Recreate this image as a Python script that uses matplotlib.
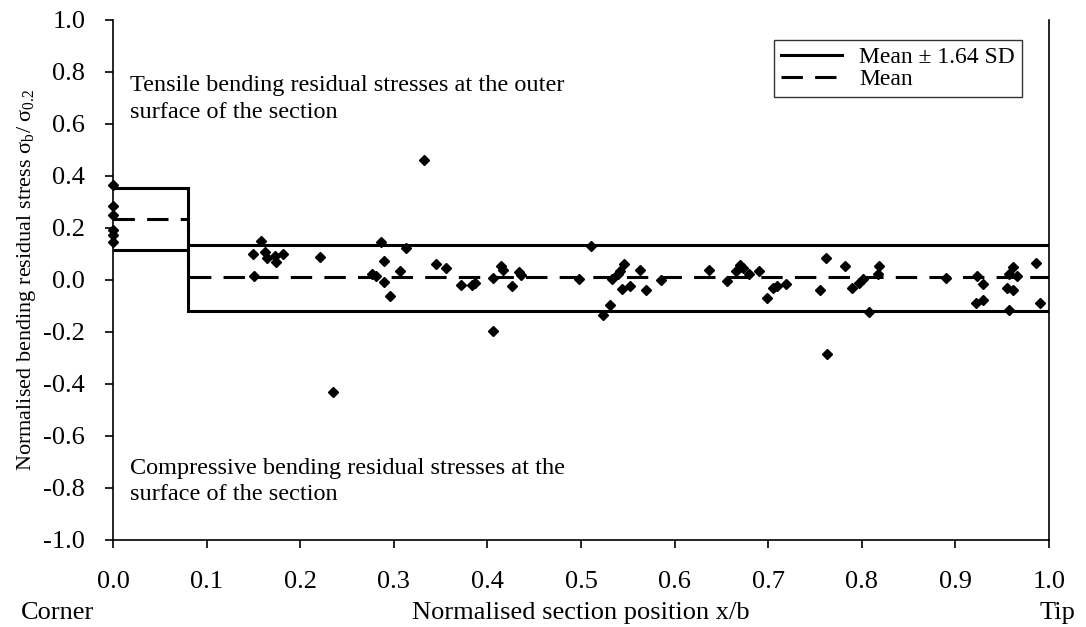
import numpy as np
import matplotlib
matplotlib.use('Agg')
import matplotlib.pyplot as plt

plt.rcParams['font.family'] = ['Liberation Serif', 'DejaVu Serif']
plt.rcParams['mathtext.fontset'] = 'custom'
plt.rcParams['mathtext.rm'] = 'Liberation Serif'
plt.rcParams['mathtext.it'] = 'Liberation Serif:italic'

# measured points (x/b, sigma_b / sigma_0.2)
x_pts = [0.0, 0.0, 0.0, 0.0, 0.0, 0.0,
         0.158, 0.150, 0.162, 0.164, 0.173, 0.174, 0.182, 0.151, 0.221,
         0.235, 0.286, 0.313, 0.289, 0.277, 0.281, 0.290, 0.296, 0.307,
         0.332, 0.345, 0.356, 0.372, 0.384, 0.387, 0.406, 0.406, 0.415,
         0.417, 0.426, 0.434, 0.436, 0.498, 0.511,
         0.523, 0.531, 0.533, 0.539, 0.542, 0.546, 0.544, 0.552, 0.563,
         0.569, 0.586, 0.637, 0.656, 0.666, 0.670, 0.673, 0.679, 0.690,
         0.699, 0.705, 0.709, 0.719, 0.755, 0.762, 0.763,
         0.782, 0.789, 0.797, 0.801, 0.808, 0.818, 0.817, 0.890,
         0.923, 0.930, 0.922, 0.930, 0.957, 0.955, 0.962, 0.957, 0.962,
         0.966, 0.986, 0.990]
y_pts = [0.366, 0.285, 0.249, 0.191, 0.174, 0.145,
         0.150, 0.100, 0.108, 0.085, 0.093, 0.069, 0.100, 0.014, 0.090,
         -0.432, 0.147, 0.125, 0.072, 0.023, 0.017, -0.009, -0.062, 0.033,
         0.461, 0.062, 0.048, -0.018, -0.020, -0.013, 0.007, -0.195, 0.052,
         0.040, -0.022, 0.030, 0.021, 0.002, 0.132,
         -0.134, -0.098, 0.004, 0.023, 0.036, 0.060, -0.036, -0.022, 0.039,
         -0.038, 0.000, 0.039, -0.005, 0.036, 0.056, 0.045, 0.023, 0.034,
         -0.071, -0.029, -0.022, -0.016, -0.040, 0.086, -0.284,
         0.053, -0.029, -0.013, 0.002, -0.123, 0.052, 0.023, 0.007,
         0.014, -0.016, -0.090, -0.075, -0.114, -0.029, -0.038, 0.023, 0.049,
         0.014, 0.065, -0.090]

# corner zone / flat zone limits
zone_edges = [0.0, 0.08, 1.0]
sd_upper = [0.355, 0.135]
mean_vals = [0.235, 0.01]
sd_lower = [0.115, -0.12]

x_ticks = [0.0, 0.1, 0.2, 0.3, 0.4, 0.5, 0.6, 0.7, 0.8, 0.9, 1.0]
y_ticks = [-1.0, -0.8, -0.6, -0.4, -0.2, 0.0, 0.2, 0.4, 0.6, 0.8, 1.0]

fig = plt.figure(figsize=(10.86, 6.27), dpi=100)
ax = fig.add_axes([113/1086, 1 - 540/627, 936/1086, 520/627])

ax.stairs(sd_upper, zone_edges, baseline=None, color='black', lw=2.2,
          label='Mean ± 1.64 SD')
ax.stairs(sd_lower, zone_edges, baseline=None, color='black', lw=2.2)
ax.stairs(mean_vals, zone_edges, baseline=None, color='black', lw=2.2,
          linestyle=(0, (7, 4)), label='Mean')
ax.plot(x_pts, y_pts, 'D', color='black', markersize=5, zorder=3, clip_on=False)

ax.set_xlim(0, 1)
ax.set_ylim(-1, 1)
ax.set_xticks(x_ticks)
ax.set_yticks(y_ticks)
ax.set_xticklabels([f'{v:.1f}' for v in x_ticks])
ax.set_yticklabels([f'{v:.1f}' for v in y_ticks])
ax.tick_params(labelsize=19, direction='out', length=6, width=1.2, pad=14)
ax.tick_params(axis='x', pad=16)
for s in ['left', 'bottom', 'right']:
    ax.spines[s].set_linewidth(1.2)
ax.spines['top'].set_visible(False)

ax.set_ylabel('Normalised bending residual stress σ$_\\mathrm{b}$/ σ$_{0.2}$',
              fontsize=16, labelpad=4)
ax.set_xlabel('Normalised section position x/b', fontsize=19)
ax.xaxis.set_label_coords(0.5, -0.14)
ax.xaxis.label.set_va('center')
ax.text(-0.098, -0.14, 'Corner', transform=ax.transAxes, fontsize=19, va='center')
ax.text(0.99, -0.14, 'Tip', transform=ax.transAxes, fontsize=19, va='center')

ax.text(0.018, 0.895, 'Tensile bending residual stresses at the outer\nsurface of the section',
        transform=ax.transAxes, fontsize=17.5, va='top', linespacing=1.4)
ax.text(0.018, 0.158, 'Compressive bending residual stresses at the\nsurface of the section',
        transform=ax.transAxes, fontsize=17.5, va='top', linespacing=1.35)

leg = ax.legend(loc='upper right', bbox_to_anchor=(0.971, 0.962), fontsize=17,
                frameon=True, fancybox=False, handlelength=2.6, borderpad=0.3,
                labelspacing=0.0, handletextpad=0.7, borderaxespad=0)
leg.get_frame().set_edgecolor('black')
leg.get_frame().set_linewidth(1.0)

fig.savefig('out.png', dpi=100)
